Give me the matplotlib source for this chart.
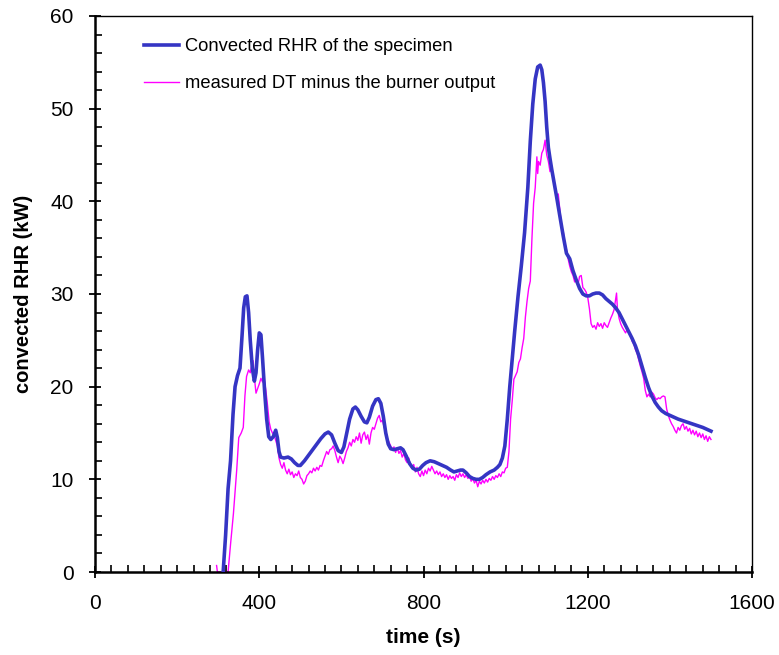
"""Convected RHR of the specimen vs measured DT minus burner output."""

import matplotlib
matplotlib.use("Agg")
import matplotlib.pyplot as plt  # noqa: E402
from matplotlib.ticker import MultipleLocator  # noqa: E402

plt.rcParams["font.family"] = ["Liberation Sans", "DejaVu Sans"]

BLUE = "#3535c4"
MAGENTA = "#ff00ff"

# Convected RHR of the specimen (time s, kW)
RHR_T = [312, 318, 324, 330, 336, 341, 347, 353, 358, 362, 366, 370, 374, 378,
         383, 388, 392, 396, 400, 404, 408, 413, 418, 423, 428, 434, 440, 444,
         448, 452, 460, 470, 478, 486, 494, 500, 510, 520, 530, 540, 550, 560,
         568, 576, 584, 592, 600, 606, 612, 620, 628, 634, 640, 648, 656, 662,
         668, 676, 684, 690, 696, 702, 708, 714, 720, 728, 736, 744, 750, 758,
         766, 774, 782, 790, 798, 806, 816, 826, 836, 846, 856, 866, 874, 882,
         890, 896, 904, 912, 920, 928, 936, 944, 952, 962, 972, 980, 986, 992,
         998, 1004, 1010, 1016, 1022, 1030, 1038, 1046, 1054, 1060, 1066, 1072,
         1078, 1084, 1088, 1092, 1096, 1100, 1104, 1108, 1112, 1118, 1124, 1132,
         1140, 1148, 1156, 1164, 1172, 1180, 1188, 1196, 1204, 1212, 1220, 1228,
         1236, 1244, 1252, 1260, 1268, 1276, 1284, 1292, 1300, 1308, 1316, 1324,
         1332, 1340, 1348, 1356, 1364, 1372, 1380, 1390, 1400, 1420, 1440, 1460,
         1480, 1500]
RHR_Q = [0.0, 4.0, 9.0, 12.0, 17.0, 20.0, 21.2, 22.0, 25.5, 28.5, 29.7, 29.8,
         28.0, 25.0, 22.0, 20.6, 21.5, 24.0, 25.8, 25.6, 23.0, 19.5, 16.5, 14.6,
         14.3, 14.6, 15.3, 14.5, 13.0, 12.4, 12.3, 12.4, 12.2, 11.8, 11.5, 11.5,
         12.0, 12.6, 13.2, 13.8, 14.4, 14.9, 15.1, 14.8, 13.9, 13.1, 12.9, 13.5,
         14.8, 16.5, 17.6, 17.8, 17.5, 16.8, 16.2, 16.1, 16.7, 17.9, 18.6, 18.7,
         18.2, 16.8, 15.0, 13.8, 13.3, 13.2, 13.3, 13.4, 13.2, 12.5, 11.7, 11.2,
         11.0, 11.1, 11.5, 11.8, 12.0, 11.9, 11.7, 11.5, 11.3, 11.0, 10.8, 10.9,
         11.0, 11.0, 10.7, 10.3, 10.1, 10.0, 10.0, 10.2, 10.5, 10.8, 11.0, 11.3,
         11.6, 12.3, 13.6, 16.5, 20.0, 23.0, 26.0, 29.7, 33.0, 36.6, 41.5, 46.5,
         50.5, 53.2, 54.5, 54.7, 54.2, 52.8, 50.8, 48.0, 45.8, 44.6, 43.5, 42.0,
         40.5, 38.4, 36.3, 34.4, 33.8, 32.5, 31.5, 30.6, 30.0, 29.8, 29.8, 30.0,
         30.1, 30.1, 29.9, 29.5, 29.2, 28.9, 28.5, 28.0, 27.3, 26.6, 25.9, 25.2,
         24.4, 23.4, 22.2, 21.0, 19.9, 19.0, 18.3, 17.8, 17.4, 17.1, 16.9, 16.5,
         16.2, 15.9, 15.6, 15.2]

# measured DT minus the burner output (time s, kW)
DT_T = [296, 298, 324, 330, 337, 345, 350, 356, 361, 365, 369, 374, 378, 382,
        385, 388, 392, 396, 400, 404, 408, 412, 416, 420, 424, 428, 432, 436,
        440, 444, 448, 452, 456, 460, 464, 468, 472, 476, 480, 484, 488, 492,
        496, 500, 504, 508, 512, 516, 520, 524, 528, 532, 536, 540, 544, 548,
        552, 556, 560, 564, 568, 572, 576, 580, 584, 588, 592, 596, 600, 604,
        608, 612, 616, 620, 624, 628, 632, 636, 640, 644, 648, 652, 656, 660,
        664, 668, 672, 676, 680, 684, 688, 692, 696, 700, 704, 708, 712, 716,
        720, 724, 728, 732, 736, 740, 744, 748, 752, 756, 760, 764, 768, 772,
        776, 780, 784, 788, 792, 796, 800, 804, 808, 812, 816, 820, 824, 828,
        832, 836, 840, 844, 848, 852, 856, 860, 864, 868, 872, 876, 880, 884,
        888, 892, 896, 900, 904, 908, 912, 916, 920, 924, 928, 932, 936, 940,
        944, 948, 952, 956, 960, 964, 968, 972, 976, 980, 984, 988, 992, 996,
        1000, 1004, 1008, 1012, 1016, 1020, 1024, 1028, 1032, 1036, 1040, 1044,
        1048, 1052, 1056, 1060, 1064, 1068, 1072, 1076, 1078, 1080, 1084, 1088,
        1092, 1096, 1100, 1104, 1108, 1112, 1116, 1120, 1124, 1128, 1132, 1136,
        1140, 1144, 1148, 1152, 1156, 1160, 1164, 1168, 1172, 1176, 1180, 1184,
        1188, 1192, 1196, 1200, 1204, 1208, 1212, 1216, 1220, 1224, 1228, 1232,
        1236, 1240, 1244, 1248, 1252, 1256, 1260, 1264, 1268, 1270, 1272, 1276,
        1280, 1284, 1288, 1292, 1296, 1300, 1304, 1308, 1312, 1316, 1320, 1324,
        1328, 1332, 1336, 1340, 1344, 1348, 1352, 1356, 1360, 1364, 1368, 1372,
        1376, 1380, 1384, 1388, 1392, 1396, 1400, 1404, 1408, 1412, 1416, 1420,
        1424, 1428, 1432, 1436, 1440, 1444, 1448, 1452, 1456, 1460, 1464, 1468,
        1472, 1476, 1480, 1484, 1488, 1492, 1496, 1500]
DT_Q = [0.7, 0.0, 0.0, 3.0, 6.3, 11.0, 14.5, 15.0, 15.6, 19.0, 21.1, 21.8,
        21.5, 22.4, 22.8, 21.0, 19.3, 19.8, 20.3, 20.9, 20.5, 20.8, 19.6, 18.0,
        16.2, 15.4, 15.0, 14.8, 14.2, 13.6, 12.3, 11.6, 11.2, 11.8, 11.0, 10.6,
        11.1, 10.5, 10.8, 10.2, 10.6, 10.4, 10.9, 10.2, 10.0, 9.5, 9.8, 10.4,
        10.6, 10.9, 10.7, 11.2, 10.9, 11.3, 11.0, 11.5, 11.4, 12.0, 12.5, 13.0,
        12.7, 13.2, 13.3, 13.6, 13.1, 12.4, 11.8, 12.5, 12.2, 11.7, 12.3, 13.0,
        13.4, 14.0, 13.6, 14.3, 14.0, 14.6, 14.2, 15.0, 13.9, 14.8, 15.1, 14.3,
        14.8, 13.8, 15.0, 15.6, 15.4, 16.0, 16.6, 16.9, 16.2, 16.4, 15.6, 15.2,
        14.4, 14.0, 13.6, 13.2, 13.5, 12.9, 13.4, 12.8, 13.1, 12.4, 12.8, 12.1,
        11.8, 12.3, 11.5, 11.2, 11.6, 10.8, 11.3, 10.6, 10.3, 10.9, 10.4, 11.0,
        10.6, 11.2, 10.9, 11.4, 11.0, 10.6, 10.9, 10.5, 10.8, 10.3, 10.6, 10.2,
        10.5, 10.0, 10.4, 10.1, 10.3, 9.9, 10.5, 10.2, 10.7, 10.3, 10.6, 10.2,
        10.5, 10.1, 10.3, 9.8, 10.1, 9.6, 9.9, 9.2, 9.8, 9.5, 9.9, 9.6, 10.0,
        9.7, 10.1, 9.9, 10.3, 10.0, 10.4, 10.2, 10.6, 10.3, 10.8, 10.7, 11.2,
        11.3, 13.0, 16.5, 18.5, 20.8, 21.2, 21.6, 22.6, 23.0, 24.2, 25.2, 27.5,
        29.2, 30.6, 31.4, 36.0, 39.8, 41.5, 44.8, 43.0, 44.3, 43.9, 45.2, 45.6,
        46.6, 45.0, 44.3, 43.2, 43.7, 42.4, 41.5, 40.6, 40.8, 39.0, 37.3, 36.8,
        35.5, 34.8, 33.8, 33.0, 32.4, 32.0, 31.3, 31.6, 31.0, 31.9, 32.0, 30.7,
        30.5, 30.2, 29.6, 28.4, 26.8, 26.4, 26.6, 26.2, 26.9, 26.5, 26.8, 26.3,
        26.9, 26.6, 26.4, 26.9, 27.4, 27.8, 28.3, 29.5, 30.1, 28.5, 27.4, 26.8,
        26.4, 26.1, 25.8, 26.2, 25.9, 25.5, 24.9, 24.6, 24.0, 23.6, 22.9, 22.2,
        21.6, 20.9, 19.6, 18.9, 19.2, 18.9, 19.4, 19.2, 18.8, 18.6, 18.8, 18.7,
        18.9, 19.0, 18.9, 17.6, 16.9, 16.4, 16.0, 15.7, 15.3, 15.0, 15.6, 15.3,
        15.8, 16.0, 15.4, 15.7, 15.2, 15.5, 14.9, 15.3, 14.8, 15.2, 14.6, 15.0,
        14.5, 14.9, 14.3, 14.7, 14.1, 14.6, 14.3]

fig = plt.figure(figsize=(7.79, 6.55), dpi=100)
ax = fig.add_axes([0.1220, 0.1267, 0.8434, 0.8489])

ax.plot(RHR_T, RHR_Q, color=BLUE, lw=2.6, label="Convected RHR of the specimen",
        zorder=3)
ax.plot(DT_T, DT_Q, color=MAGENTA, lw=1.0,
        label="measured DT minus the burner output", zorder=2)

ax.set_xlim(0, 1600)
ax.set_ylim(0, 60)
ax.xaxis.set_major_locator(MultipleLocator(400))
ax.xaxis.set_minor_locator(MultipleLocator(40))
ax.yaxis.set_major_locator(MultipleLocator(10))
ax.yaxis.set_minor_locator(MultipleLocator(2))
ax.tick_params(which="major", direction="inout", length=9, width=1.3,
               labelsize=15, pad=11)
ax.tick_params(which="minor", direction="in", length=5, width=1.2)
for side in ("top", "right"):
    ax.spines[side].set_linewidth(1.0)
for side in ("left", "bottom"):
    ax.spines[side].set_linewidth(1.8)

ax.set_xlabel("time (s)", fontsize=15, fontweight="bold", labelpad=11)
ax.set_ylabel("convected RHR (kW)", fontsize=14.5, fontweight="bold",
              labelpad=12)

ax.legend(loc="upper left", bbox_to_anchor=(0.05, 0.99), frameon=False,
          fontsize=13.2, handlelength=1.9, handletextpad=0.3, labelspacing=1.1)

fig.savefig("out.png", dpi=100)
